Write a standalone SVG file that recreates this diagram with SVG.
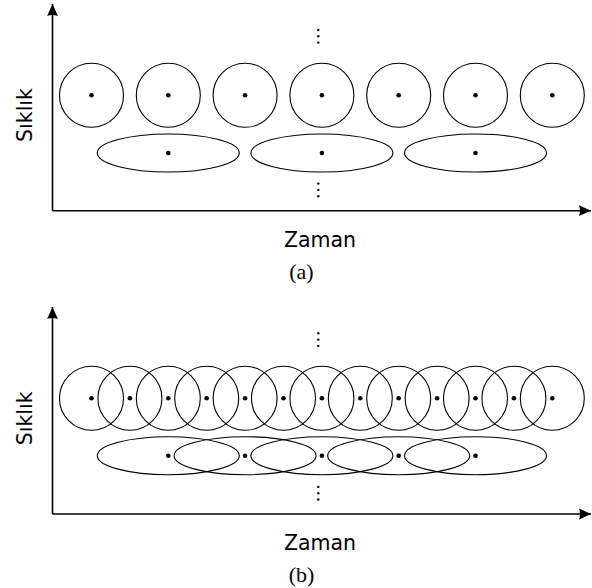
<svg xmlns="http://www.w3.org/2000/svg" width="592" height="588" viewBox="0 0 592 588">
<style>
.c{fill:none;stroke:#000;stroke-width:1.1}
.d{fill:#000}
.ax{fill:none;stroke:#000;stroke-width:1.6}
.lbl{font-family:"DejaVu Sans",sans-serif;font-size:20.5px;fill:#000}
.cap{font-family:"Liberation Serif",serif;font-size:22px;fill:#000}
</style>
<defs>
<marker id="arr" markerUnits="userSpaceOnUse" markerWidth="16" markerHeight="14" refX="13" refY="7" orient="auto">
<path d="M13,7 L1,1.6 Q3,7 1,12.4 Z" fill="#000"/>
</marker>
</defs>
<rect width="592" height="588" fill="#fff"/>
<!-- Panel (a) -->
<g id="panel-a">
<g id="a-axes" class="connectors">
<path class="ax" d="M52.5,210.7 V4" marker-end="url(#arr)"/>
<path class="ax" d="M52.5,210.7 H591" marker-end="url(#arr)"/>
</g>
<g id="a-c1"><circle class="c" cx="91.5" cy="95.3" r="32"/><circle class="d" cx="91.5" cy="95.3" r="2.3"/></g>
<g id="a-c2"><circle class="c" cx="168.3" cy="95.3" r="32"/><circle class="d" cx="168.3" cy="95.3" r="2.3"/></g>
<g id="a-c3"><circle class="c" cx="245.1" cy="95.3" r="32"/><circle class="d" cx="245.1" cy="95.3" r="2.3"/></g>
<g id="a-c4"><circle class="c" cx="321.9" cy="95.3" r="32"/><circle class="d" cx="321.9" cy="95.3" r="2.3"/></g>
<g id="a-c5"><circle class="c" cx="398.7" cy="95.3" r="32"/><circle class="d" cx="398.7" cy="95.3" r="2.3"/></g>
<g id="a-c6"><circle class="c" cx="475.5" cy="95.3" r="32"/><circle class="d" cx="475.5" cy="95.3" r="2.3"/></g>
<g id="a-c7"><circle class="c" cx="552.3" cy="95.3" r="32"/><circle class="d" cx="552.3" cy="95.3" r="2.3"/></g>
<g id="a-e1"><ellipse class="c" cx="168.3" cy="153" rx="71" ry="19"/><circle class="d" cx="168.3" cy="153" r="2.3"/></g>
<g id="a-e2"><ellipse class="c" cx="321.9" cy="153" rx="71" ry="19"/><circle class="d" cx="321.9" cy="153" r="2.3"/></g>
<g id="a-e3"><ellipse class="c" cx="475.5" cy="153" rx="71" ry="19"/><circle class="d" cx="475.5" cy="153" r="2.3"/></g>
<g id="a-vdots-top"><circle class="d" cx="318.3" cy="30" r="1.2"/><circle class="d" cx="318.3" cy="36.3" r="1.2"/><circle class="d" cx="318.3" cy="42.6" r="1.2"/></g>
<g id="a-vdots-bot"><circle class="d" cx="318.3" cy="183.6" r="1.2"/><circle class="d" cx="318.3" cy="189.9" r="1.2"/><circle class="d" cx="318.3" cy="196.2" r="1.2"/></g>
<text class="lbl" text-anchor="middle" transform="translate(31.5,115) rotate(-90)">Sıklık</text>
<text class="lbl" x="320" y="247" text-anchor="middle">Zaman</text>
<text class="cap" x="301.5" y="279" text-anchor="middle">(a)</text>
</g>
<!-- Panel (b) -->
<g id="panel-b">
<g id="b-axes" class="connectors">
<path class="ax" d="M52.5,514 V307" marker-end="url(#arr)"/>
<path class="ax" d="M52.5,514 H591" marker-end="url(#arr)"/>
</g>
<g id="b-c1"><circle class="c" cx="91.5" cy="398.3" r="32"/><circle class="d" cx="91.5" cy="398.3" r="2.3"/></g>
<g id="b-c2"><circle class="c" cx="129.9" cy="398.3" r="32"/><circle class="d" cx="129.9" cy="398.3" r="2.3"/></g>
<g id="b-c3"><circle class="c" cx="168.3" cy="398.3" r="32"/><circle class="d" cx="168.3" cy="398.3" r="2.3"/></g>
<g id="b-c4"><circle class="c" cx="206.7" cy="398.3" r="32"/><circle class="d" cx="206.7" cy="398.3" r="2.3"/></g>
<g id="b-c5"><circle class="c" cx="245.1" cy="398.3" r="32"/><circle class="d" cx="245.1" cy="398.3" r="2.3"/></g>
<g id="b-c6"><circle class="c" cx="283.5" cy="398.3" r="32"/><circle class="d" cx="283.5" cy="398.3" r="2.3"/></g>
<g id="b-c7"><circle class="c" cx="321.9" cy="398.3" r="32"/><circle class="d" cx="321.9" cy="398.3" r="2.3"/></g>
<g id="b-c8"><circle class="c" cx="360.3" cy="398.3" r="32"/><circle class="d" cx="360.3" cy="398.3" r="2.3"/></g>
<g id="b-c9"><circle class="c" cx="398.7" cy="398.3" r="32"/><circle class="d" cx="398.7" cy="398.3" r="2.3"/></g>
<g id="b-c10"><circle class="c" cx="437.1" cy="398.3" r="32"/><circle class="d" cx="437.1" cy="398.3" r="2.3"/></g>
<g id="b-c11"><circle class="c" cx="475.5" cy="398.3" r="32"/><circle class="d" cx="475.5" cy="398.3" r="2.3"/></g>
<g id="b-c12"><circle class="c" cx="513.9" cy="398.3" r="32"/><circle class="d" cx="513.9" cy="398.3" r="2.3"/></g>
<g id="b-c13"><circle class="c" cx="552.3" cy="398.3" r="32"/><circle class="d" cx="552.3" cy="398.3" r="2.3"/></g>
<g id="b-e1"><ellipse class="c" cx="168.3" cy="455.7" rx="71" ry="19"/><circle class="d" cx="168.3" cy="455.7" r="2.3"/></g>
<g id="b-e2"><ellipse class="c" cx="245.1" cy="455.7" rx="71" ry="19"/><circle class="d" cx="245.1" cy="455.7" r="2.3"/></g>
<g id="b-e3"><ellipse class="c" cx="321.9" cy="455.7" rx="71" ry="19"/><circle class="d" cx="321.9" cy="455.7" r="2.3"/></g>
<g id="b-e4"><ellipse class="c" cx="398.7" cy="455.7" rx="71" ry="19"/><circle class="d" cx="398.7" cy="455.7" r="2.3"/></g>
<g id="b-e5"><ellipse class="c" cx="475.5" cy="455.7" rx="71" ry="19"/><circle class="d" cx="475.5" cy="455.7" r="2.3"/></g>
<g id="b-vdots-top"><circle class="d" cx="318.3" cy="333.3" r="1.2"/><circle class="d" cx="318.3" cy="339.6" r="1.2"/><circle class="d" cx="318.3" cy="345.9" r="1.2"/></g>
<g id="b-vdots-bot"><circle class="d" cx="318.3" cy="486.9" r="1.2"/><circle class="d" cx="318.3" cy="493.2" r="1.2"/><circle class="d" cx="318.3" cy="499.5" r="1.2"/></g>
<text class="lbl" text-anchor="middle" transform="translate(31.5,418.3) rotate(-90)">Sıklık</text>
<text class="lbl" x="320" y="550" text-anchor="middle">Zaman</text>
<text class="cap" x="301.5" y="582" text-anchor="middle">(b)</text>
</g>
</svg>
